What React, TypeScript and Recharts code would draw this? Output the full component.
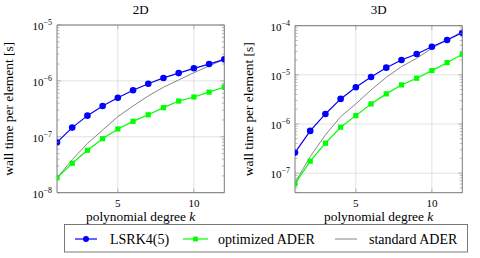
import React from 'react';
import { LineChart, Line, XAxis, YAxis, CartesianGrid, ReferenceArea } from 'recharts';

const degrees = [1, 2, 3, 4, 5, 6, 7, 8, 9, 10, 11, 12];
const lsrk2D = [8.0e-8, 1.46e-7, 2.39e-7, 3.56e-7, 5.0e-7, 6.8e-7, 8.9e-7, 1.13e-6, 1.38e-6, 1.68e-6, 2.0e-6, 2.43e-6];
const optAder2D = [1.85e-8, 3.36e-8, 5.74e-8, 9.25e-8, 1.38e-7, 1.89e-7, 2.48e-7, 3.32e-7, 4.36e-7, 5.15e-7, 6.3e-7, 7.78e-7];
const stdAder2D = [1.85e-8, 3.9e-8, 7.6e-8, 1.32e-7, 2.29e-7, 3.56e-7, 5.37e-7, 7.7e-7, 1.04e-6, 1.4e-6, 1.85e-6, 2.43e-6];
const lsrk3D = [2.62e-7, 7.24e-7, 1.6e-6, 3.24e-6, 5.6e-6, 9.06e-6, 1.4e-5, 2.01e-5, 2.66e-5, 3.74e-5, 5.12e-5, 7.2e-5];
const optAder3D = [6.07e-8, 1.75e-7, 4.07e-7, 8.6e-7, 1.48e-6, 2.56e-6, 4.1e-6, 6.24e-6, 8.53e-6, 1.22e-5, 1.77e-5, 2.62e-5];
const stdAder3D = [6.4e-8, 2.17e-7, 6.0e-7, 1.41e-6, 2.56e-6, 4.93e-6, 8.9e-6, 1.47e-5, 2.17e-5, 3.47e-5, 5.1e-5, 7.7e-5];

const seriesNames = ['LSRK4(5)', 'optimized ADER', 'standard ADER'];
const panelTitles = ['2D', '3D'];
const xTicks = [5, 10];
const xLabel = 'polynomial degree ';
const yLabel = 'wall time per element [s]';

const BLUE = '#0000ff';
const GREEN = '#00ff00';
const GRAY = '#858585';
const FRAME = '#6a6a6a';
const TICK = '#8a8a8a';

const CSS = `
svg text, svg tspan { font-family: 'Liberation Serif' !important; font-weight: normal !important; }
svg text.t-tick { font-size: 11px !important; }
svg tspan.t-sup { font-size: 8px !important; }
svg text.t-title { font-size: 13px !important; }
svg text.t-label { font-size: 13.4px !important; }
svg tspan.t-it { font-style: italic !important; }
svg text.t-leg { font-size: 14px !important; }
`;

function buildRows(a: number[], b: number[], c: number[]) {
  return degrees.map((k, i) => ({ k, lsrk: a[i], opt: b[i], std: c[i] }));
}

function logTicks(min: number, max: number) {
  const out: number[] = [];
  const e0 = Math.floor(Math.log10(min) + 1e-9);
  const e1 = Math.ceil(Math.log10(max) - 1e-9);
  for (let e = e0; e <= e1; e++) {
    for (let m = 1; m <= 9; m++) {
      const v = parseFloat((m * Math.pow(10, e)).toPrecision(6));
      if (v >= min * 0.9999 && v <= max * 1.0001) out.push(v);
    }
  }
  return out;
}

function makeYTick(pl: number, pr: number) {
  return (props: any) => {
    const { y, payload } = props;
    const v = payload.value;
    const lg = Math.log10(v);
    const exp = Math.round(lg);
    const major = Math.abs(lg - exp) < 1e-6;
    const len = major ? 4 : 2.5;
    return (
      <g>
        <line x1={pl} x2={pl + len} y1={y} y2={y} stroke={TICK} strokeWidth={0.6} />
        <line x1={pr - len} x2={pr} y1={y} y2={y} stroke={TICK} strokeWidth={0.6} />
        {major ? (
          <text className="t-tick" x={pl - 5} y={y + 4.8} textAnchor="end" fill="#000">
            <tspan>10</tspan>
            <tspan className="t-sup" dy={-4.8}>{'\u2212' + String(-exp)}</tspan>
          </text>
        ) : null}
      </g>
    );
  };
}

function makeXTick(top: number, bottom: number) {
  return (props: any) => {
    const { x, payload } = props;
    return (
      <g>
        <line x1={x} x2={x} y1={bottom} y2={bottom - 4} stroke={TICK} strokeWidth={0.6} />
        <line x1={x} x2={x} y1={top} y2={top + 4} stroke={TICK} strokeWidth={0.6} />
        <text className="t-tick" x={x} y={bottom + 14} textAnchor="middle" fill="#000">
          {payload.value}
        </text>
      </g>
    );
  };
}

const SquareDot = (props: any) => {
  const { cx, cy } = props;
  if (cx == null || cy == null) return null;
  return <rect x={cx - 2.6} y={cy - 2.6} width={5.2} height={5.2} fill={GREEN} />;
};

type PanelProps = {
  rows: any[];
  yMin: number;
  yMax: number;
  pl: number;
  pr: number;
  top: number;
  bottom: number;
};

function Panel({ rows, yMin, yMax, pl, pr, top, bottom }: PanelProps) {
  const W = 240;
  const H = 258;
  const ticks = logTicks(yMin, yMax);
  const majors = ticks.filter((v) => Math.abs(Math.log10(v) - Math.round(Math.log10(v))) < 1e-6);
  return (
    <LineChart
      width={W}
      height={H}
      data={rows}
      margin={{ top, right: W - pr, left: 0, bottom: 0 }}
    >
      <CartesianGrid
        horizontalValues={majors}
        verticalValues={xTicks}
        stroke="#d4d4d4"
        strokeWidth={0.7}
      />
      <XAxis
        dataKey="k"
        type="number"
        domain={[1, 12]}
        ticks={xTicks}
        interval={0}
        height={H - bottom}
        axisLine={false}
        tickLine={false}
        tick={makeXTick(top, bottom)}
        allowDataOverflow
      />
      <YAxis
        type="number"
        scale="log"
        domain={[yMin, yMax]}
        ticks={ticks}
        interval={0}
        width={pl}
        axisLine={false}
        tickLine={false}
        tick={makeYTick(pl, pr)}
        allowDataOverflow
      />
      <Line dataKey="std" stroke={GRAY} strokeWidth={1} dot={false} isAnimationActive={false} />
      <Line dataKey="opt" stroke={GREEN} strokeWidth={1.2} dot={<SquareDot />} isAnimationActive={false} />
      <Line
        dataKey="lsrk"
        stroke={BLUE}
        strokeWidth={1.2}
        dot={{ r: 3.3, fill: BLUE, stroke: BLUE, strokeWidth: 0 }}
        isAnimationActive={false}
      />
      <ReferenceArea
        x1={1}
        x2={12}
        y1={yMin}
        y2={yMax}
        fill="none"
        fillOpacity={0}
        stroke={FRAME}
        strokeWidth={0.9}
      />
    </LineChart>
  );
}

export default function App() {
  const left = { pl: 57, pr: 224.3, top: 25, bottom: 192.7 };
  const right = { pl: 55, pr: 222.3, top: 25.7, bottom: 192.7 };
  const legendItems = [
    { name: seriesNames[0], color: BLUE, marker: 'circle', x0: 75, x1: 97, tx: 110 },
    { name: seriesNames[1], color: GREEN, marker: 'square', x0: 183, x1: 208, tx: 218 },
    { name: seriesNames[2], color: GRAY, marker: 'none', x0: 335, x1: 357, tx: 369 },
  ];
  return (
    <div style={{ position: 'absolute', left: 0, top: 0, width: 480, height: 258, background: '#fff' }}>
      <style>{CSS}</style>
      <div style={{ position: 'absolute', left: 0, top: 0 }}>
        <Panel rows={buildRows(lsrk2D, optAder2D, stdAder2D)} yMin={1e-8} yMax={1e-5} {...left} />
      </div>
      <div style={{ position: 'absolute', left: 240, top: 0 }}>
        <Panel rows={buildRows(lsrk3D, optAder3D, stdAder3D)} yMin={4e-8} yMax={1e-4} {...right} />
      </div>
      <svg width={480} height={258} style={{ position: 'absolute', left: 0, top: 0, pointerEvents: 'none' }}>
        {[0, 1].map((i) => {
          const off = i * 240;
          const p = i === 0 ? left : right;
          const cx = off + (p.pl + p.pr) / 2;
          const cy = (p.top + p.bottom) / 2;
          const lx = off + 13;
          return (
            <g key={i}>
              <text className="t-title" x={cx} y={14} textAnchor="middle" fill="#000">
                {panelTitles[i]}
              </text>
              <text className="t-label" x={cx} y={221} textAnchor="middle" fill="#000">
                {xLabel}
                <tspan className="t-it">k</tspan>
              </text>
              <text
                className="t-label"
                x={lx}
                y={cy}
                textAnchor="middle"
                fill="#000"
                transform={`rotate(-90 ${lx} ${cy})`}
              >
                {yLabel}
              </text>
            </g>
          );
        })}
        <rect x={64.5} y={224.5} width={403} height={27.5} fill="#fff" stroke={FRAME} strokeWidth={0.9} />
        {legendItems.map((it) => {
          const my = 239;
          const mx = (it.x0 + it.x1) / 2;
          return (
            <g key={it.name}>
              <line x1={it.x0} x2={it.x1} y1={my} y2={my} stroke={it.color} strokeWidth={it.marker === 'none' ? 1 : 1.2} />
              {it.marker === 'circle' ? <circle cx={mx} cy={my} r={3} fill={it.color} /> : null}
              {it.marker === 'square' ? <rect x={mx - 2.4} y={my - 2.4} width={4.8} height={4.8} fill={it.color} /> : null}
              <text className="t-leg" x={it.tx} y={my + 4.5} fill="#000">
                {it.name}
              </text>
            </g>
          );
        })}
      </svg>
    </div>
  );
}
